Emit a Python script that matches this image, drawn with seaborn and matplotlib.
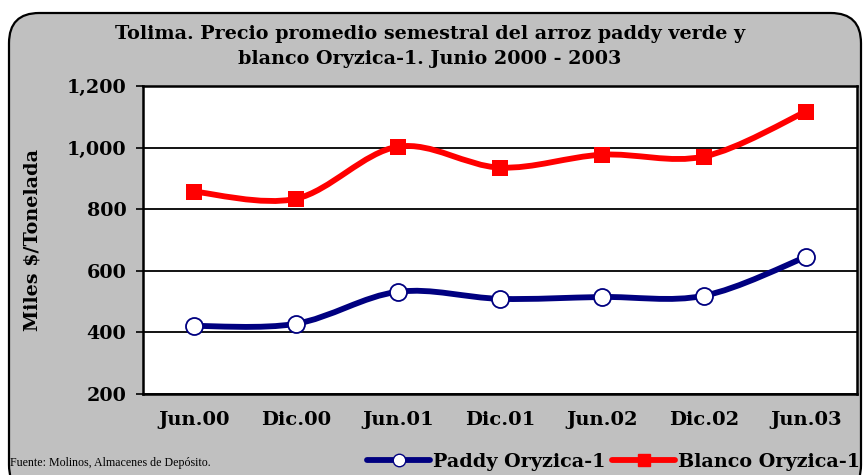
import numpy as np
import pandas as pd
import matplotlib
matplotlib.use("Agg")
import matplotlib.pyplot as plt
import seaborn as sns
from matplotlib.path import Path
from matplotlib.patches import PathPatch, FancyBboxPatch
from matplotlib.lines import Line2D

# ---- data ----
periods = ["Jun.00", "Dic.00", "Jun.01", "Dic.01", "Jun.02", "Dic.02", "Jun.03"]
paddy = [421, 428, 532, 509, 515, 519, 645]
blanco = [857, 834, 1003, 935, 977, 971, 1117]
yticks = [200, 400, 600, 800, 1000, 1200]
series_names = ["Paddy Oryzica-1", "Blanco Oryzica-1"]

title = "Tolima. Precio promedio semestral del arroz paddy verde y\nblanco Oryzica-1. Junio 2000 - 2003"
ylabel = "Miles $/Tonelada"
source = "Fuente: Molinos, Almacenes de Depósito."

navy = "#000080"
red = "#FF0000"
grey = "#C0C0C0"

sns.set_theme(style="white")
plt.rcParams["font.family"] = ["DejaVu Serif"]
plt.rcParams["text.color"] = "black"
plt.rcParams["axes.labelcolor"] = "black"
plt.rcParams["xtick.color"] = "black"
plt.rcParams["ytick.color"] = "black"

W, H = 863, 475
fig = plt.figure(figsize=(W / 100, H / 100), dpi=100)
fig.patch.set_facecolor("white")

# rounded grey chart area
bg = FancyBboxPatch((9 / W, -20 / H), (852) / W, (H - 13 + 20) / H,
                    boxstyle="round,pad=0,rounding_size=0.035",
                    transform=fig.transFigure, facecolor=grey,
                    edgecolor="black", linewidth=1.6, zorder=-10,
                    mutation_aspect=W / H)
fig.patches.append(bg)

left, right, top, bottom = 143, 857, 86, 394
ax = fig.add_axes([left / W, 1 - bottom / H, (right - left) / W, (bottom - top) / H])
ax.set_facecolor("white")
ax.set_zorder(1)

df = pd.DataFrame({
    "x": list(range(len(periods))) * 2,
    "value": paddy + blanco,
    "serie": [series_names[0]] * len(periods) + [series_names[1]] * len(periods),
})


def smooth_path(xs, ys):
    pts = np.column_stack([xs, ys]).astype(float)
    n = len(pts)
    verts = [pts[0]]
    codes = [Path.MOVETO]
    for i in range(n - 1):
        p0 = pts[i - 1] if i > 0 else pts[i]
        p1 = pts[i]
        p2 = pts[i + 1]
        p3 = pts[i + 2] if i + 2 < n else pts[i + 1]
        c1 = p1 + (p2 - p0) / 6.0
        c2 = p2 - (p3 - p1) / 6.0
        verts += [c1, c2, p2]
        codes += [Path.CURVE4] * 3
    return Path(verts, codes)


xs = np.arange(len(periods))
for vals, col in [(paddy, navy), (blanco, red)]:
    patch = PathPatch(smooth_path(xs, vals), facecolor="none", edgecolor=col,
                      linewidth=4.2, capstyle="round", joinstyle="round",
                      transform=ax.transData, zorder=3)
    ax.add_patch(patch)

sns.scatterplot(data=df[df.serie == series_names[0]], x="x", y="value", ax=ax,
                marker="o", s=150, facecolor="white", edgecolor=navy,
                linewidth=1.3, zorder=5, legend=False)
sns.scatterplot(data=df[df.serie == series_names[1]], x="x", y="value", ax=ax,
                marker="s", s=130, color=red, edgecolor=red,
                linewidth=0, zorder=5, legend=False)

ax.set_xlim(-0.5, len(periods) - 0.5)
ax.set_ylim(200, 1200)
ax.set_yticks(yticks)
ax.set_yticklabels([f"{v:,}" for v in yticks])
ax.set_xticks(xs)
ax.set_xticklabels(periods)
ax.set_xticks(np.arange(-0.5, len(periods), 1.0), minor=True)
ax.tick_params(axis="x", which="major", length=0, pad=12)
ax.tick_params(axis="x", which="minor", length=5, width=1.2, color="black", direction="out")
ax.tick_params(axis="y", which="major", length=5, width=1.2, color="black",
               direction="out", pad=7, left=True)
for lab in ax.get_xticklabels():
    lab.set_fontweight("bold")
    lab.set_fontsize(14)
    lab.set_color("black")
for lab in ax.get_yticklabels():
    lab.set_fontweight("bold")
    lab.set_fontsize(13.8)
    lab.set_color("black")

ax.grid(axis="y", color="black", linewidth=1.3)
ax.grid(axis="x", visible=False)
for s in ax.spines.values():
    s.set_visible(True)
    s.set_color("black")
    s.set_linewidth(1.8)

ax.set_xlabel("")
ax.set_ylabel(ylabel, fontsize=13.8, fontweight="bold", color="black")
ax.yaxis.set_label_coords(-(left - 33) / (right - left), 0.5)
ax.yaxis.label.set_va("center")

fig.text(430 / W, 1 - 46.5 / H, title, ha="center", va="center", fontsize=13.8,
         fontweight="bold", family="DejaVu Serif", color="black", linespacing=1.5)

fig.text(10 / W, 1 - 463 / H, source, ha="left", va="center", fontsize=8.6,
         family="Liberation Serif", color="black")

handles = [
    Line2D([], [], color=navy, lw=4.2, marker="o", markersize=9,
           markerfacecolor="white", markeredgecolor=navy),
    Line2D([], [], color=red, lw=4.2, marker="s", markersize=8,
           markerfacecolor=red, markeredgecolor=red),
]
fig.legend(handles, series_names, loc="center left",
           bbox_to_anchor=(367 / W, 1 - 462 / H), ncol=2, frameon=False,
           prop={"family": "DejaVu Serif", "weight": "bold", "size": 13.8},
           handlelength=3.3, handletextpad=0.15, columnspacing=0.35,
           borderpad=0, borderaxespad=0, labelcolor="black")

fig.savefig("out.png", dpi=100, facecolor="white")
